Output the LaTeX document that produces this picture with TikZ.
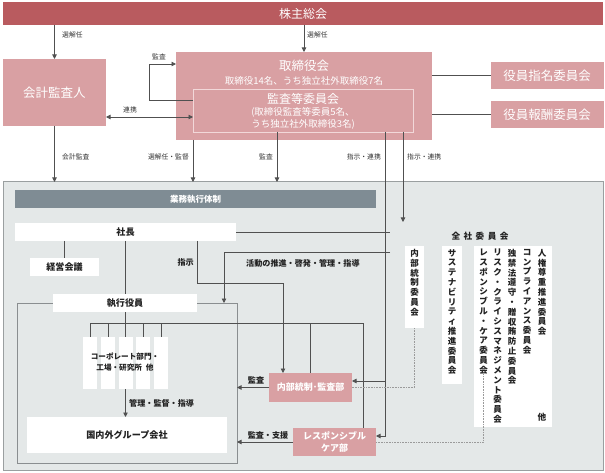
\documentclass[tikz,border=0pt]{standalone}
\usepackage{fontspec}
\setmainfont{Noto Sans CJK JP}
\usetikzlibrary{arrows.meta}
\definecolor{bannerc}{HTML}{B95B5F}
\definecolor{pinkc}{HTML}{D9A0A3}
\definecolor{innerc}{HTML}{F2D8D9}
\definecolor{bggray}{HTML}{E4E8E8}
\definecolor{bordergray}{HTML}{9A9FA0}
\definecolor{exborder}{HTML}{8A8E90}
\definecolor{headbar}{HTML}{7F8C94}
\definecolor{linec}{HTML}{505050}
\definecolor{labelc}{HTML}{333333}
\definecolor{dotc}{HTML}{9A9A9A}
\definecolor{textc}{HTML}{222222}
\begin{document}
\begin{tikzpicture}[x=1pt,y=-1pt,
  rect/.style 2 args={minimum width=#1pt, minimum height=#2pt, inner sep=0pt, outer sep=0pt},
  pinkfill/.style={fill=pinkc, text=white},
  whitefill/.style={fill=white, text=textc},
  conn/.style={draw=linec, line width=0.8pt},
  arr/.style={conn, -{Triangle[length=4.5pt,width=4.5pt]}},
  arrb/.style={conn, {Triangle[length=4.5pt,width=4.5pt]}-{Triangle[length=4.5pt,width=4.5pt]}},
  dotl/.style={draw=dotc, line width=0.8pt, dash pattern=on 0.8pt off 0.8pt},
  lbl/.style={font=\fontsize{6.8}{8}\selectfont, text=labelc, inner sep=0pt},
  glbl/.style={font=\fontsize{8.1}{10}\selectfont\bfseries, text=textc, inner sep=0pt},
  gtxt/.style={font=\fontsize{9.1}{11}\selectfont\bfseries},
  vcol/.style={font=\fontsize{8.5}{9.8}\selectfont\bfseries, align=center, inner sep=0pt, text=textc, anchor=north},
]
\useasboundingbox (0,0) rectangle (605,473);

% ---------- top part ----------
\node[rect={600}{23}, fill=bannerc, text=white, font=\fontsize{12}{14}\selectfont] (banner) at (303,13.5) {株主総会};
\node[rect={103}{67}, pinkfill, font=\fontsize{12.5}{14}\selectfont] (kaikei) at (54.5,92.5) {会計監査人};
\node[rect={256}{88}, pinkfill] (tori) at (304,96) {};
\node[text=white, font=\fontsize{12.5}{14}\selectfont, inner sep=0pt] (toriT) at (304,66) {取締役会};
\node[text=white, font=\fontsize{9.5}{11}\selectfont, inner sep=0pt] (toriS) at (304,81) {取締役14名、うち独立社外取締役7名};
\node[rect={220}{43}, draw=innerc, line width=0.8pt] (kansa) at (303,110.5) {};
\node[text=white, font=\fontsize{12}{14}\selectfont, inner sep=0pt] (kansaT) at (303,99) {監査等委員会};
\node[text=white, font=\fontsize{9.5}{12}\selectfont, align=center, inner sep=0pt] (kansaS) at (303,118.5) {(取締役監査等委員5名、\\うち独立社外取締役3名)};
\node[rect={113}{27}, pinkfill, font=\fontsize{12.5}{14}\selectfont] (shimei) at (547,75.5) {役員指名委員会};
\node[rect={113}{27}, pinkfill, font=\fontsize{12.5}{14}\selectfont] (houshu) at (547,114.5) {役員報酬委員会};

% ---------- lower region ----------
\node[rect={600}{288}, fill=bggray, draw=bordergray, line width=1pt] (region) at (303,326) {};
\node[rect={361}{18}, fill=headbar, text=white, font=\fontsize{8.5}{10}\selectfont\bfseries] (head) at (195.5,199) {業務執行体制};
\node[rect={221}{18}, whitefill, gtxt] (shacho) at (125.5,232) {社長};
\node[rect={69}{18}, whitefill, gtxt] (keiei) at (64.5,267) {経営会議};
\node[rect={220}{160}, fill=bggray, draw=exborder, line width=0.8pt] (exreg) at (127,383) {};
\node[rect={144}{18}, whitefill, gtxt] (shikko) at (125,303) {執行役員};
\foreach \x/\n in {90/c1,108/c2,125.5/c3,143/c4,161/c5}
  \node[rect={14}{52}, fill=white] (\n) at (\x,363) {};
\node[font=\fontsize{7.6}{11.5}\selectfont\bfseries, align=center, text=textc, inner sep=0pt] (corpT) at (125,362) {コーポレート部門・\\工場・研究所\hspace{4pt}他};
\node[rect={200}{36}, whitefill, gtxt] (group) at (127,435) {国内外グループ会社};
\node[rect={83}{29}, pinkfill, font=\fontsize{9}{11}\selectfont\bfseries] (naibu) at (310.5,387.5) {内部統制･監査部};
\node[rect={83}{28}, pinkfill, font=\fontsize{9}{11.5}\selectfont\bfseries, align=center] (rc) at (334.5,442) {レスポンシブル\\ケア部};

% 全社委員会
\node[rect={179}{214}, fill=bggray, draw=exborder, line width=0.6pt, double=bggray, double distance=1.4pt] (zensha) at (479.5,329) {};
\node[font=\fontsize{8.6}{10}\selectfont\bfseries, text=textc, inner sep=0pt] (zenT) at (480,236) {全\hspace{3.5pt}社\hspace{3.5pt}委\hspace{3.5pt}員\hspace{3.5pt}会};
\node[rect={19}{82}, fill=white] (naibuI) at (414.5,287) {};
\node[rect={20}{138}, fill=white] (sus) at (452,315) {};
\node[rect={78}{181}, fill=white] (big) at (513,336.5) {};
\node[vcol] (naibuIT) at (414.5,249) {内\\部\\統\\制\\委\\員\\会};
\node[vcol] (susT) at (452,249) {サ\\ス\\テ\\ナ\\ビ\\リ\\テ\\ィ\\推\\進\\委\\員\\会};
\node[vcol] (jinken) at (542,249) {人\\権\\尊\\重\\推\\進\\委\\員\\会};
\node[vcol] (compl) at (527,249) {コ\\ン\\プ\\ラ\\イ\\ア\\ン\\ス\\委\\員\\会};
\node[vcol] (dokkin) at (512,249) {独\\禁\\法\\遵\\守\\・\\贈\\収\\賄\\防\\止\\委\\員\\会};
\node[vcol] (risk) at (497.5,249) {リ\\ス\\ク\\・\\ク\\ラ\\イ\\シ\\ス\\マ\\ネ\\ジ\\メ\\ン\\ト\\委\\員\\会};
\node[vcol] (rcI) at (483.5,249) {レ\\ス\\ポ\\ン\\シ\\ブ\\ル\\・\\ケ\\ア\\委\\員\\会};
\node[font=\fontsize{8.6}{10}\selectfont\bfseries, text=textc, inner sep=0pt] (hoka) at (542,417) {他};

% ---------- connectors ----------
\draw[arr] (banner.south -| kaikei.north) -- (kaikei.north);
\draw[arr] (banner.south -| tori.north) -- (tori.north);
\coordinate (loopA) at (149,100);
\draw[arr] (kansa.west |- loopA) -| (149,64) -- (tori.west |- 0,64);
\draw[arrb] (kaikei.east |- 0,117) -- (kansa.west |- 0,117);
\draw[conn] (tori.east |- shimei.west) -- (shimei.west);
\draw[conn] (tori.east |- houshu.west) -- (houshu.west);

\draw[arr] (kaikei.south) -- (kaikei.south |- region.north);
\draw[arr] (kansa.west |- tori.south) -- (kansa.west |- region.north);
\draw[arr] (277,0 |- kansa.south) -- (277,0 |- region.north);
\draw[arr] (403,0 |- kansa.south) -- (403,0 |- zensha.north);
\coordinate (brA) at (385,381);
\draw[arr] (385,0 |- kansa.south) |- ([yshift=6pt]rc.east);
\draw[arr] (brA) -- (naibu.east |- brA);

\draw[conn] (shacho.east) -- (zensha.west |- shacho.east);
\coordinate (actA) at (224,252);
\draw[arr] (zensha.west |- actA) -| (actA |- exreg.north);
\draw[conn] (shacho.south -| keiei.north) -- (keiei.north);
\draw[conn] (shacho.south -| shikko.north) -- (shikko.north);
\coordinate (shijiA) at (197,283);
\draw[arr] (shijiA |- shacho.south) -- (shijiA) -| (283,0 |- naibu.north);

\coordinate (busL) at (90,323);
\coordinate (busR) at (363,323);
\draw[conn] (shikko.south) -- (shikko.south |- busL);
\draw[conn] (busL) -- (busR);
\foreach \n in {c1,c2,c3,c4,c5}
  \draw[conn] (\n.north |- busL) -- (\n.north);
\draw[conn] (naibu.north |- busL) -- (naibu.north);
\draw[conn] (busR) -- (busR |- rc.north);
\draw[arr] (c3.south) -- (c3.south |- group.north);
\draw[arr] (naibu.west) -- (naibu.west -| exreg.east);
\draw[arr] (rc.west) -- (rc.west -| exreg.east);

\draw[dotl] (naibuI.south) |- (naibu.east);
\draw[dotl] (rcI.south) |- (rc.east);

% ---------- labels ----------
\node[lbl, anchor=west] at (62,35) {選解任};
\node[lbl, anchor=west] at (307,35) {選解任};
\node[lbl] at (159,57) {監査};
\node[lbl] at (130,110) {連携};
\node[lbl, anchor=west] at (62,157) {会計監査};
\node[lbl, anchor=east] at (189,157) {選解任・監督};
\node[lbl, anchor=east] at (273,157) {監査};
\node[lbl, anchor=east] at (381,157) {指示・連携};
\node[lbl, anchor=west] at (407,157) {指示・連携};
\node[glbl, anchor=east] at (194,262) {指示};
\node[glbl, anchor=west] at (246,263) {活動の推進・啓発・管理・指導};
\node[glbl, anchor=west] at (129,403) {管理・監督・指導};
\node[glbl] at (256,380) {監査};
\node[glbl] at (268,435) {監査・支援};
\end{tikzpicture}
\end{document}
